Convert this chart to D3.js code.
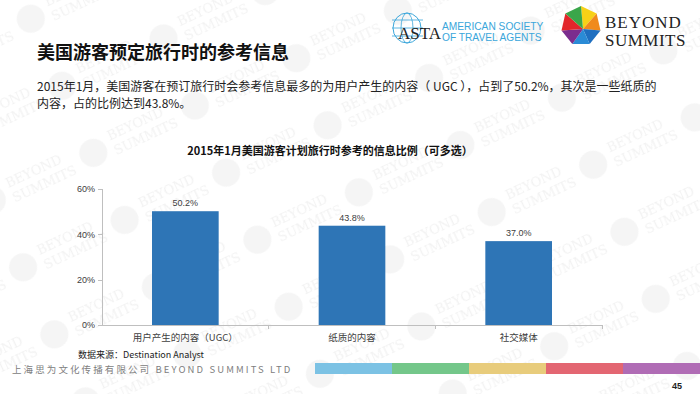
<html>
<head>
<meta charset="utf-8">
<title>美国游客预定旅行时的参考信息</title>
<style>
  body { margin: 0; background: #fff; }
  svg { display: block; }
  .axis path, .axis line { fill: none; stroke: #bfbfbf; shape-rendering: crispEdges; }
  .axis text { font-family: "Liberation Sans", "Noto Sans CJK SC", sans-serif; fill: #404040; }
</style>
</head>
<body>
<script src="https://cdn.jsdelivr.net/npm/d3@7/dist/d3.min.js"></script>
<script>
  var width = 700, height = 394;

  // data
  var categories = ["用户产生的内容（UGC）", "纸质的内容", "社交媒体"];
  var values = [50.2, 43.8, 37.0];
  var yTicks = [0, 20, 40, 60];
  var footerColors = ["#7cc2e4", "#74c78a", "#e8cc7c", "#e36672", "#b06cb5"];

  var cjk = "'Noto Sans CJK SC', 'Liberation Sans', sans-serif";

  var svg = d3.select("body").append("svg")
    .attr("width", width).attr("height", height);

  // light watermark
  var defs = svg.append("defs");
  var pat = defs.append("pattern")
    .attr("id", "wm").attr("patternUnits", "userSpaceOnUse")
    .attr("width", 112).attr("height", 74)
    .attr("patternTransform", "rotate(-25)");
  pat.append("circle").attr("cx", 20).attr("cy", 30).attr("r", 14).attr("fill", "#f5f5f5");
  pat.append("text").attr("x", 40).attr("y", 26)
    .style("font-family", "'DejaVu Serif', serif").style("font-size", "13px")
    .attr("fill", "#f2f2f2").text("BEYOND");
  pat.append("text").attr("x", 40).attr("y", 42)
    .style("font-family", "'DejaVu Serif', serif").style("font-size", "13px")
    .attr("fill", "#f2f2f2").text("SUMMITS");
  svg.append("rect").attr("width", width).attr("height", height).attr("fill", "url(#wm)");

  // header logos
  var asta = svg.append("g").attr("transform", "translate(390,12)");
  asta.append("ellipse").attr("cx", 17).attr("cy", 16).attr("rx", 14).attr("ry", 15)
    .attr("fill", "none").attr("stroke", "#3aa6db").attr("stroke-width", 1);
  asta.append("ellipse").attr("cx", 17).attr("cy", 16).attr("rx", 6).attr("ry", 15)
    .attr("fill", "none").attr("stroke", "#3aa6db").attr("stroke-width", 0.8);
  [8, 16, 24].forEach(function(y) {
    asta.append("line").attr("x1", 2).attr("x2", 33).attr("y1", y).attr("y2", y)
      .attr("stroke", "#3aa6db").attr("stroke-width", 0.8);
  });
  asta.append("text").attr("x", 8).attr("y", 27)
    .style("font-family", "'Liberation Serif', serif").style("font-size", "17px")
    .attr("fill", "#222").text("ASTA");
  asta.append("text").attr("x", 52).attr("y", 18)
    .style("font-family", "'Liberation Sans', sans-serif").style("font-size", "10.2px")
    .attr("fill", "#3aa6db").text("AMERICAN SOCIETY");
  asta.append("text").attr("x", 52).attr("y", 29)
    .style("font-family", "'Liberation Sans', sans-serif").style("font-size", "10.2px")
    .attr("fill", "#3aa6db").text("OF TRAVEL AGENTS");

  var facetColors = ["#f7d117", "#f08a1d", "#1f6fc0", "#2a8bd6", "#7b2d8e", "#e2262b", "#3aa64a"];
  var cx = 581, cy = 26, r = 20;
  var pts = d3.range(7).map(function(i) {
    var a = -Math.PI / 2 + i * 2 * Math.PI / 7;
    return [cx + r * Math.cos(a), cy + r * Math.sin(a)];
  });
  pts.forEach(function(p, i) {
    var q = pts[(i + 1) % 7];
    svg.append("path")
      .attr("d", "M" + [cx + 2, cy + 3] + "L" + p + "L" + q + "Z")
      .attr("fill", facetColors[i]);
  });
  svg.append("text").attr("x", 605).attr("y", 28)
    .style("font-family", "'Liberation Serif', serif").style("font-size", "17px")
    .style("letter-spacing", "1px")
    .attr("fill", "#222").text("BEYOND");
  svg.append("text").attr("x", 605).attr("y", 46)
    .style("font-family", "'Liberation Serif', serif").style("font-size", "17px")
    .style("letter-spacing", "0.5px")
    .attr("fill", "#222").text("SUMMITS");

  // title and paragraph
  svg.append("text").attr("x", 37).attr("y", 59)
    .style("font-family", cjk).style("font-size", "18px").style("font-weight", "bold")
    .attr("fill", "#111").text("美国游客预定旅行时的参考信息");

  var para = svg.append("text")
    .style("font-family", cjk).style("font-size", "12px").attr("fill", "#222");
  para.append("tspan").attr("x", 37).attr("y", 91)
    .text("2015年1月，美国游客在预订旅行时会参考信息最多的为用户产生的内容（ UGC ），占到了50.2%，其次是一些纸质的");
  para.append("tspan").attr("x", 37).attr("y", 108)
    .text("内容，占的比例达到43.8%。");

  // chart
  var x = d3.scaleBand().domain(categories).range([102, 602])
    .paddingInner(0.6).paddingOuter(0.3);
  var y = d3.scaleLinear().domain([0, 60]).range([325, 189]);

  svg.append("text").attr("x", 330).attr("y", 155).attr("text-anchor", "middle")
    .style("font-family", cjk).style("font-size", "11px").style("font-weight", "bold")
    .attr("fill", "#111").text("2015年1月美国游客计划旅行时参考的信息比例（可多选）");

  var yAxis = d3.axisLeft(y).tickValues(yTicks).tickSize(4).tickPadding(3)
    .tickFormat(function(d) { return d + "%"; });
  var gy = svg.append("g").attr("class", "axis").attr("transform", "translate(102,0)").call(yAxis);
  gy.selectAll("text").style("font-size", "9px").attr("fill", "#404040");

  svg.selectAll(".bar").data(values).enter().append("rect")
    .attr("class", "bar")
    .attr("x", function(d, i) { return x(categories[i]); })
    .attr("y", function(d) { return y(d); })
    .attr("width", x.bandwidth())
    .attr("height", function(d) { return y(0) - y(d); })
    .attr("fill", "#2e75b6");

  svg.selectAll(".val").data(values).enter().append("text")
    .attr("class", "val")
    .attr("x", function(d, i) { return x(categories[i]) + x.bandwidth() / 2; })
    .attr("y", function(d) { return y(d) - 5; })
    .attr("text-anchor", "middle")
    .style("font-family", "'Liberation Sans', sans-serif").style("font-size", "9px")
    .attr("fill", "#404040")
    .text(function(d) { return d.toFixed(1) + "%"; });

  var gx = svg.append("g").attr("class", "axis").attr("transform", "translate(0,325)")
    .call(d3.axisBottom(x).tickSize(0).tickPadding(9));
  gx.selectAll("text").style("font-size", "9.5px").style("font-family", cjk).attr("fill", "#222");
  // boundary ticks between categories
  var step = x.step();
  gx.selectAll(".sep").data(categories.slice(1).concat(["end"])).enter().append("line")
    .attr("class", "sep")
    .attr("x1", function(d, i) { return x(categories[0]) - x.paddingOuter() * step + (i + 1) * step; })
    .attr("x2", function(d, i) { return x(categories[0]) - x.paddingOuter() * step + (i + 1) * step; })
    .attr("y1", 0).attr("y2", 4);

  // source and footer
  svg.append("text").attr("x", 78).attr("y", 358)
    .style("font-family", cjk).style("font-size", "9px").attr("fill", "#222")
    .text("数据来源：Destination Analyst");

  svg.append("text").attr("x", 12).attr("y", 373)
    .style("font-family", cjk).style("font-size", "9.5px").style("letter-spacing", "2.1px")
    .attr("fill", "#808080").text("上海思为文化传播有限公司 BEYOND SUMMITS LTD");

  var fx = d3.scaleBand().domain(d3.range(footerColors.length)).range([315, 700]);
  svg.selectAll(".fbar").data(footerColors).enter().append("rect")
    .attr("class", "fbar")
    .attr("x", function(d, i) { return fx(i); })
    .attr("y", 363).attr("width", fx.bandwidth()).attr("height", 11)
    .attr("fill", function(d) { return d; });

  svg.append("text").attr("x", 672).attr("y", 389)
    .style("font-family", "'Liberation Sans', sans-serif").style("font-size", "9px")
    .style("font-weight", "bold").attr("fill", "#222").text("45");
</script>
</body>
</html>
